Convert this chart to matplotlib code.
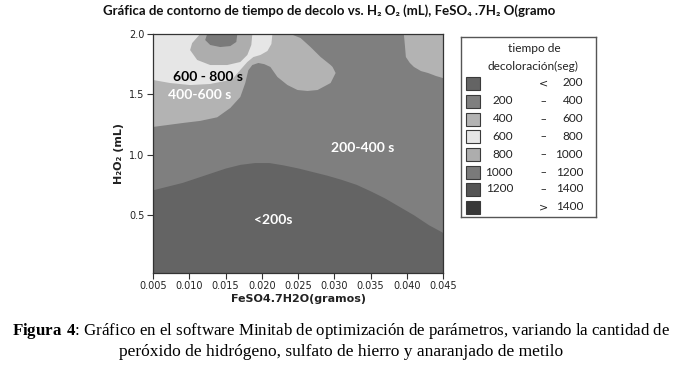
import matplotlib
matplotlib.use("Agg")
import matplotlib.pyplot as plt
from matplotlib.patches import Rectangle

plt.rcParams['font.family'] = ['Lato', 'DejaVu Sans']
plt.rcParams['mathtext.fontset'] = 'custom'
plt.rcParams['mathtext.rm'] = 'Liberation Serif'
plt.rcParams['mathtext.bf'] = 'Liberation Serif:bold'

# ---------------- data ----------------
x_range = [0.005, 0.045]
y_range = [0.02, 2.0]

# boundary <200 s / 200-400 s
b200_x = [0.005, 0.007, 0.009, 0.011, 0.013, 0.015, 0.017, 0.019, 0.021, 0.023,
          0.025, 0.027, 0.029, 0.031, 0.033, 0.035, 0.037, 0.039, 0.041, 0.043, 0.045]
b200_y = [0.71, 0.74, 0.77, 0.81, 0.85, 0.89, 0.92, 0.935, 0.935, 0.915,
          0.89, 0.86, 0.83, 0.795, 0.755, 0.70, 0.64, 0.57, 0.50, 0.42, 0.355]

# boundary 200-400 s / 400-600 s (left region with the upper lobe)
b400_x = [0.005, 0.00915, 0.0115, 0.01386, 0.01566, 0.01704, 0.01773, 0.01815,
          0.0187, 0.01953, 0.02036, 0.02119, 0.02216, 0.02355, 0.02493, 0.02631,
          0.0277, 0.0295, 0.03019, 0.02977, 0.0295, 0.02811, 0.02673, 0.02535,
          0.02396, 0.005]
b400_y = [1.23, 1.263, 1.28, 1.31, 1.387, 1.478, 1.594, 1.70,
          1.743, 1.76, 1.75, 1.727, 1.644, 1.577, 1.536, 1.528,
          1.536, 1.594, 1.677, 1.727, 1.743, 1.81, 1.892, 1.967,
          2.0, 2.0]

# boundary 200-400 s / 400-600 s (upper right corner)
b400r_x = [0.0396, 0.03974, 0.03988, 0.04043, 0.04099, 0.04196, 0.04293, 0.04403, 0.045, 0.045]
b400r_y = [2.0, 1.909, 1.809, 1.76, 1.727, 1.693, 1.677, 1.652, 1.635, 2.0]

# boundary 400-600 s / 600-800 s
b600_x = [0.005, 0.005, 0.00735, 0.01012, 0.01289, 0.01497, 0.01607, 0.01704,
          0.01801, 0.01884, 0.01981, 0.02078, 0.02133, 0.02147]
b600_y = [2.0, 1.619, 1.594, 1.577, 1.586, 1.611, 1.635, 1.702,
          1.768, 1.809, 1.826, 1.859, 1.917, 2.0]

# boundary 600-800 s / 800-1000 s
b800_x = [0.0115, 0.0104, 0.01012, 0.01109, 0.01289, 0.01524, 0.01704, 0.01801, 0.01856, 0.0187]
b800_y = [2.0, 1.925, 1.867, 1.785, 1.743, 1.743, 1.768, 1.826, 1.909, 2.0]

# boundary 800-1000 s / 1000-1200 s
b1000_x = [0.01247, 0.0122, 0.01289, 0.01427, 0.01566, 0.01649, 0.01663]
b1000_y = [2.0, 1.95, 1.909, 1.892, 1.90, 1.934, 2.0]

x_ticks = [0.005, 0.010, 0.015, 0.020, 0.025, 0.030, 0.035, 0.040, 0.045]
y_ticks = [0.5, 1.0, 1.5, 2.0]

legend_lo = ['', '200', '400', '600', '800', '1000', '1200', '']
legend_sym = ['<', '–', '–', '–', '–', '–', '–', '>']
legend_hi = ['200', '400', '600', '800', '1000', '1200', '1400', '1400']
legend_colors = ['#646464', '#7f7f7f', '#b3b3b3', '#e6e6e6', '#adadad', '#7a7a7a', '#555555', '#383838']

region_labels = ['600 - 800 s', '400-600 s', '200-400 s', '<200s']
region_label_x = [0.0126, 0.0115, 0.0339, 0.0216]
region_label_y = [1.644, 1.495, 1.055, 0.459]
region_label_colors = ['black', 'white', 'white', 'white']

c_lt200, c_200, c_400, c_600, c_800, c_1000 = legend_colors[:6]

# ---------------- figure ----------------
fig = plt.figure(figsize=(6.77, 3.65), dpi=100)
fig.patch.set_facecolor('white')
ax = fig.add_axes([153/677, 1-273/365, 290/677, 239/365])

ax.fill_between(x_range, y_range[0], y_range[1], color=c_200, lw=0)
ax.fill_between(b200_x, y_range[0], b200_y, color=c_lt200, lw=0)
ax.fill(b400_x, b400_y, color=c_400, lw=0)
ax.fill(b400r_x, b400r_y, color=c_400, lw=0)
ax.fill(b600_x, b600_y, color=c_600, lw=0)
ax.fill(b800_x, b800_y, color=c_800, lw=0)
ax.fill(b1000_x, b1000_y, color=c_1000, lw=0)

ax.set_xlim(*x_range)
ax.set_ylim(*y_range)
ax.set_xticks(x_ticks)
ax.set_xticklabels([f"{v:.3f}" for v in x_ticks], family='DejaVu Sans', fontsize=7, color='#222222')
ax.set_yticks(y_ticks)
ax.set_yticklabels([f"{v:.1f}" for v in y_ticks], family='DejaVu Sans', fontsize=7, color='#222222')
ax.tick_params(direction='out', length=4, width=0.8, color='#333333', pad=2)
for s in ax.spines.values():
    s.set_color('#333333')
    s.set_linewidth(0.9)

for t, x, y, c in zip(region_labels, region_label_x, region_label_y, region_label_colors):
    ax.text(x, y, t, color=c, fontsize=10, fontweight='bold', ha='center', va='center')

ax.set_xlabel('FeSO4.7H2O(gramos)', fontsize=8, fontweight='bold', family='DejaVu Sans',
              labelpad=2, color='#222222')
ax.set_ylabel('H₂O₂ (mL)', fontsize=8, fontweight='bold', family='DejaVu Sans',
              labelpad=4, color='#222222')

fig.text(103/677, 1-11/365, 'Gráfica de contorno de tiempo de decolo vs. H₂ O₂ (mL), FeSO₄ .7H₂ O(gramo',
         fontsize=9.55, fontweight='bold', ha='left', va='center', color='#111111')

# legend
lax = fig.add_axes([461/677, 1-217/365, 135/677, 180/365])
lax.set_xlim(461, 596)
lax.set_ylim(217, 37)
lax.set_xticks([])
lax.set_yticks([])
for s in lax.spines.values():
    s.set_color('#555555')
    s.set_linewidth(1.0)
lax.text(534, 48, 'tiempo de', fontsize=8.6, ha='center', va='center', color='#222222')
lax.text(533, 66, 'decoloración(seg)', fontsize=8.6, ha='center', va='center', color='#222222')
row_y = [83, 101, 119, 136, 154, 172, 189, 207]
for i, yy in enumerate(row_y):
    lax.add_patch(Rectangle((466, yy-6.5), 14, 13, facecolor=legend_colors[i],
                            edgecolor='#3a3a3a', lw=0.8))
    lax.text(513, yy, legend_lo[i], fontsize=8.5, ha='right', va='center', color='#222222')
    lax.text(543, yy, legend_sym[i], fontsize=8, family='DejaVu Sans', ha='center', va='center',
             color='#222222')
    lax.text(583, yy, legend_hi[i], fontsize=8.5, ha='right', va='center', color='#222222')

# caption
fig.text(341.5/677, 1-331/365,
         r'$\bf{Figura\ 4}$: Gráfico en el software Minitab de optimización de parámetros, variando la cantidad de',
         fontsize=12.15, family='Liberation Serif', ha='center', va='center', color='black')
fig.text(341.5/677, 1-352/365,
         'peróxido de hidrógeno, sulfato de hierro y anaranjado de metilo',
         fontsize=12.5, family='Liberation Serif', ha='center', va='center', color='black')

fig.savefig('out.png', dpi=100)
